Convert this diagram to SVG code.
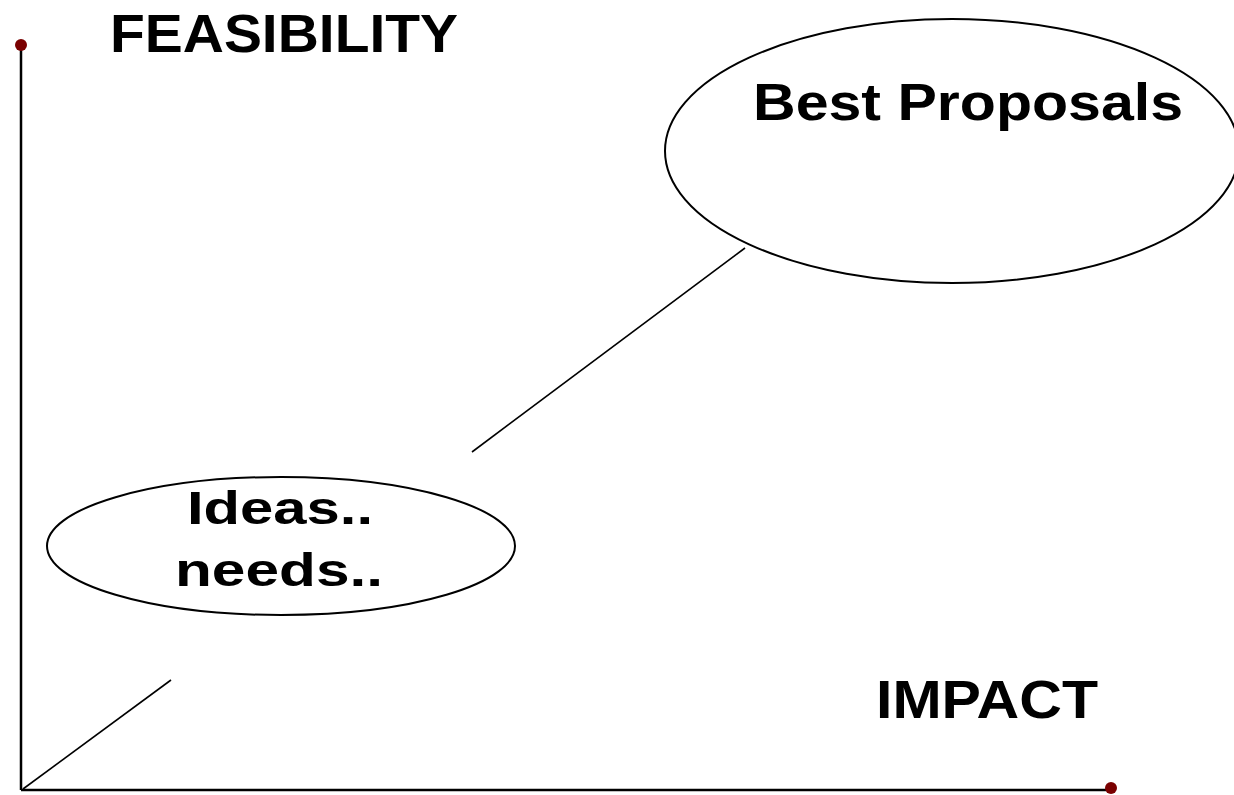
<svg xmlns="http://www.w3.org/2000/svg" width="1234" height="795" viewBox="0 0 1234 795">
<style>
.t{font-family:"Liberation Sans",Arial,sans-serif;font-weight:bold;fill:#000}
.e{fill:none;stroke:#000;stroke-width:2}
.c{stroke:#000;stroke-width:1.6;fill:none}
.ax{stroke:#000;stroke-width:2.5;fill:none}
.dot{fill:#7a0000}
</style>
<rect width="1234" height="795" fill="#fff"/>
<g id="axes">
<line class="ax" x1="21" y1="45" x2="21" y2="790"/>
<line class="ax" x1="21" y1="790" x2="1112" y2="790"/>
<circle class="dot" cx="21" cy="45" r="6"/>
<circle class="dot" cx="1111" cy="788" r="6"/>
</g>
<g id="feasibility"><text class="t" x="110" y="52" font-size="54" textLength="348" lengthAdjust="spacingAndGlyphs">FEASIBILITY</text></g>
<g id="impact"><text class="t" x="876" y="718" font-size="54" textLength="222" lengthAdjust="spacingAndGlyphs">IMPACT</text></g>
<g id="best">
<ellipse class="e" cx="952" cy="151" rx="287" ry="132"/>
<text class="t" x="753" y="120" font-size="52" textLength="430" lengthAdjust="spacingAndGlyphs">Best Proposals</text>
</g>
<g id="ideas">
<ellipse class="e" cx="281" cy="546" rx="234" ry="69"/>
<text class="t" x="187" y="524" font-size="47" textLength="186" lengthAdjust="spacingAndGlyphs">Ideas..</text>
<text class="t" x="175" y="586" font-size="47" textLength="208" lengthAdjust="spacingAndGlyphs">needs..</text>
</g>
<g id="connectors">
<line class="c" x1="23" y1="789" x2="171" y2="680"/>
<line class="c" x1="472" y1="452" x2="745" y2="248"/>
</g>
</svg>
